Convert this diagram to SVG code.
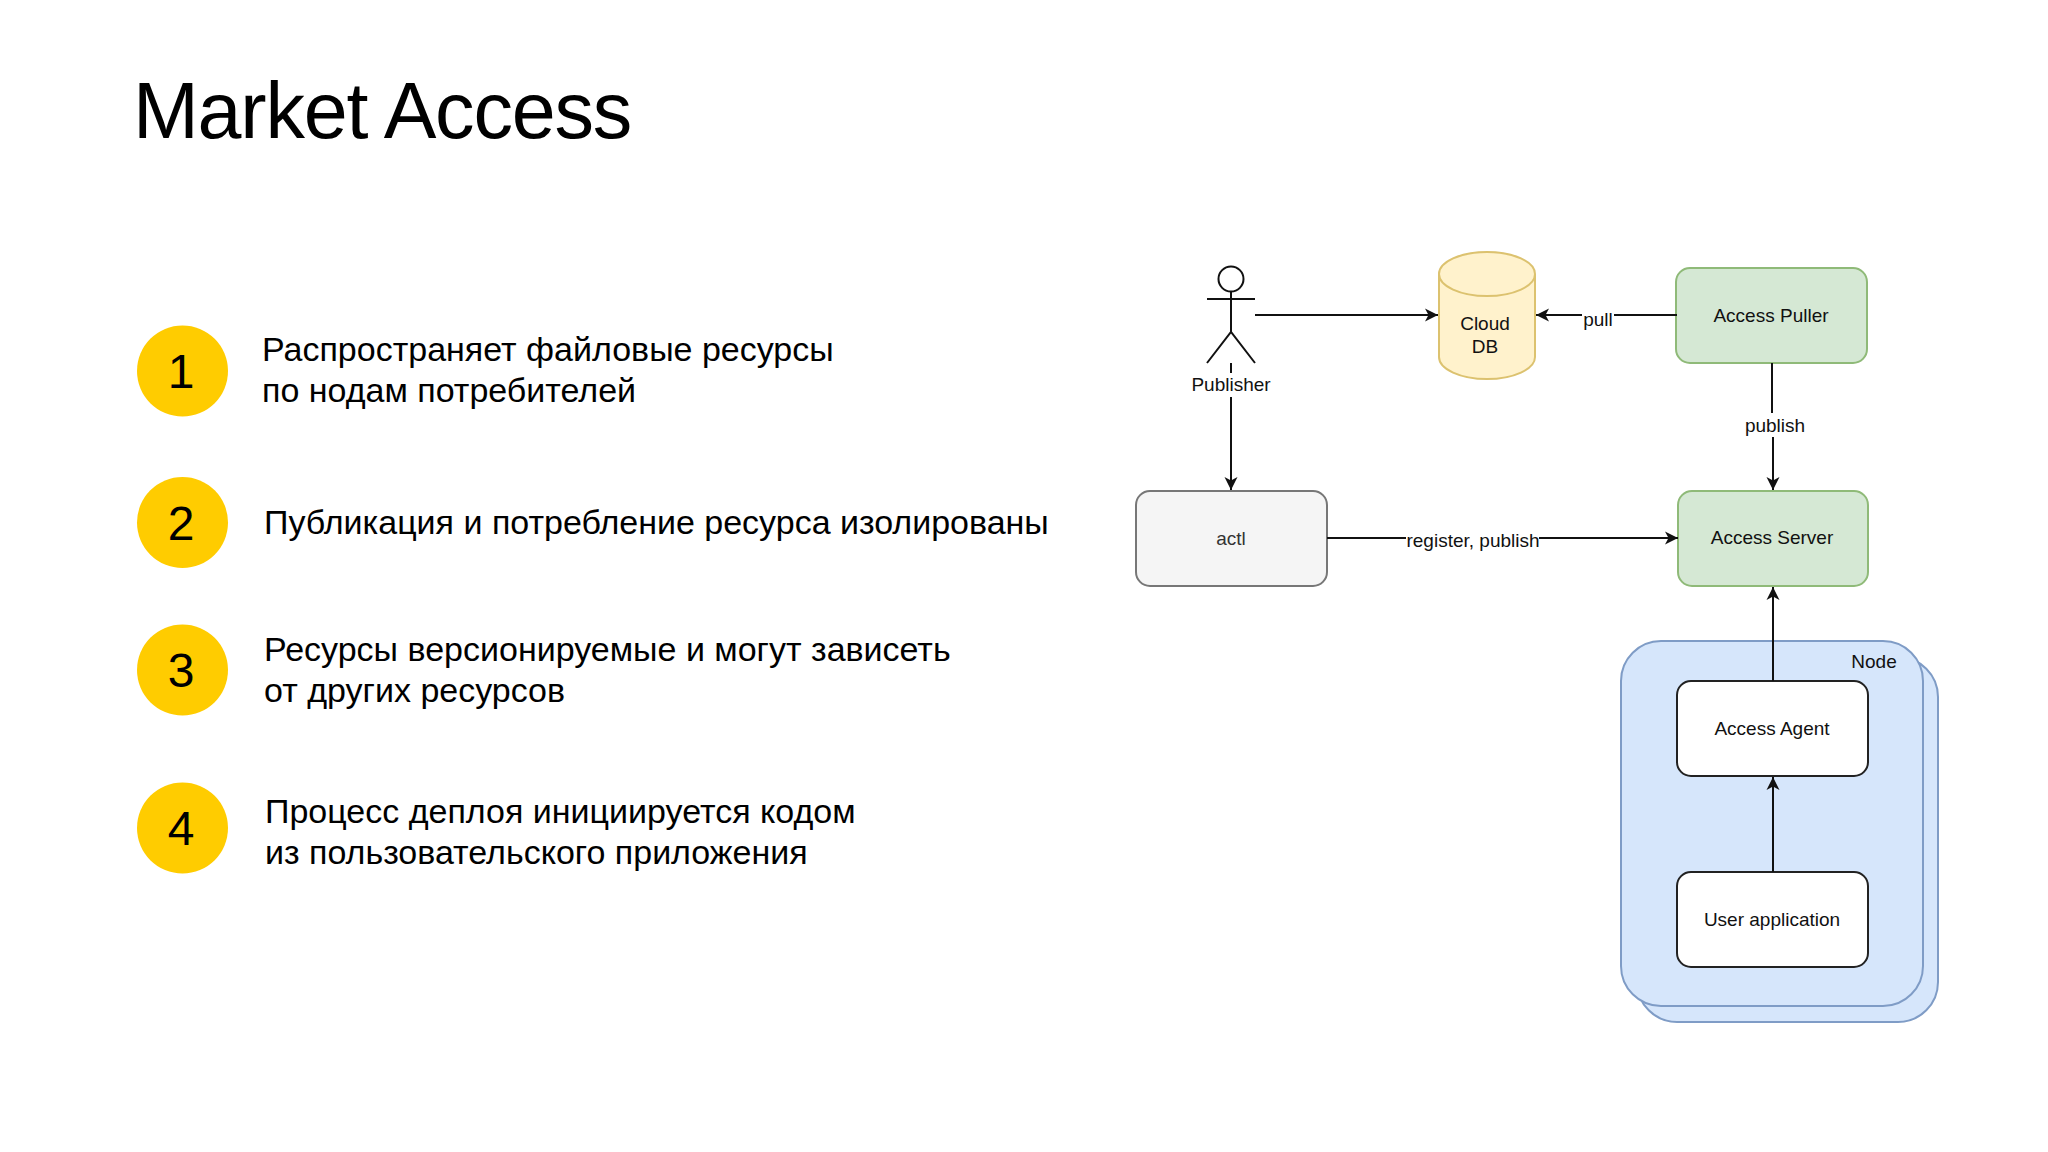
<svg xmlns="http://www.w3.org/2000/svg" width="2048" height="1152" viewBox="0 0 2048 1152">
<style>
text{font-family:"Liberation Sans",Arial,sans-serif;fill:#000}
.t{font-size:34px}
.n{font-size:48px;text-anchor:middle}
.d{font-size:19px;text-anchor:middle;fill:#111}
.c{fill:#ffcc00}
.b{stroke-width:2;rx:14px}
.g{fill:#d5e8d4;stroke:#8fba78}
.w{fill:#fff;stroke:#222}
.e{stroke:#111;stroke-width:2;fill:none}
.l{stroke:#111;stroke-width:2;fill:none;marker-end:url(#a)}
.blue{fill:#d6e6fb;stroke:#7f9cc6;stroke-width:2}
</style>
<defs>
<marker id="a" markerUnits="userSpaceOnUse" markerWidth="14" markerHeight="14" refX="13" refY="7" orient="auto">
<path d="M0,0.5 L13,7 L0,13.5 L3.5,7 Z" fill="#111"/>
</marker>
</defs>
<rect width="2048" height="1152" fill="#fff"/>
<text id="title" x="133" y="138" font-size="79" letter-spacing="-1.2">Market Access</text>
<g id="item1"><circle class="c" cx="182.500" cy="371" r="45.500"/><text class="n" x="181" y="388">1</text>
<text class="t" x="262" y="361">Распространяет файловые ресурсы</text><text class="t" x="262" y="402">по нодам потребителей</text></g>
<g id="item2"><circle class="c" cx="182.500" cy="522.500" r="45.500"/><text class="n" x="181" y="540">2</text>
<text class="t" x="264" y="534">Публикация и потребление ресурса изолированы</text></g>
<g id="item3"><circle class="c" cx="182.500" cy="670" r="45.500"/><text class="n" x="181" y="687">3</text>
<text class="t" x="264" y="661">Ресурсы версионируемые и могут зависеть</text><text class="t" x="264" y="702">от других ресурсов</text></g>
<g id="item4"><circle class="c" cx="182.500" cy="828" r="45.500"/><text class="n" x="181" y="845">4</text>
<text class="t" x="265" y="823">Процесс деплоя инициируется кодом</text><text class="t" x="265" y="864">из пользовательского приложения</text></g>

<g id="node-container">
<rect class="blue" x="1637" y="657" width="301" height="365" rx="40"/>
<rect class="blue" x="1621" y="641" width="302" height="365" rx="40"/>
<text class="d" x="1874" y="668">Node</text>
</g>
<g id="publisher">
<circle class="e" cx="1231" cy="279" r="12.500"/>
<path class="e" d="M1207,299H1255M1231,292V332M1207,363L1231,332L1255,363"/>
<text class="d" x="1231" y="391">Publisher</text>
</g>
<g id="cloud-db">
<path d="M1439,274V357A48,22 0 0 0 1535,357V274A48,22 0 0 0 1439,274Z" fill="#fff2cc" stroke="#dcc26f" stroke-width="2"/>
<path d="M1439,274A48,22 0 0 0 1535,274" fill="none" stroke="#dcc26f" stroke-width="2"/>
<text class="d" x="1485" y="330">Cloud</text><text class="d" x="1485" y="353">DB</text>
</g>
<g id="actl"><rect class="b" x="1136" y="491" width="191" height="95" fill="#f5f5f5" stroke="#777"/><text class="d" x="1231" y="545" style="fill:#333">actl</text></g>
<g id="access-puller"><rect class="b g" x="1676" y="268" width="191" height="95"/><text class="d" x="1771" y="322">Access Puller</text></g>
<g id="access-server"><rect class="b g" x="1678" y="491" width="190" height="95"/><text class="d" x="1772" y="544">Access Server</text></g>
<g id="access-agent"><rect class="b w" x="1677" y="681" width="191" height="95"/><text class="d" x="1772" y="735">Access Agent</text></g>
<g id="user-application"><rect class="b w" x="1677" y="872" width="191" height="95"/><text class="d" x="1772" y="926">User application</text></g>

<g id="connectors">
<path class="l" d="M1255,315H1438"/>
<path class="e" d="M1231,363V373"/>
<path class="l" d="M1231,397V490"/>
<path class="e" d="M1677,315H1614"/>
<path class="l" d="M1582,315H1536"/>
<path class="e" d="M1772,363V413"/>
<path class="l" d="M1773,437V490"/>
<path class="e" d="M1327,538H1406"/>
<path class="l" d="M1539,538H1678"/>
<path class="l" d="M1773,681V587"/>
<path class="l" d="M1773,872V777"/>
<text class="d" x="1598" y="326">pull</text>
<text class="d" x="1775" y="432">publish</text>
<text class="d" x="1473" y="547">register, publish</text>
</g>
</svg>
